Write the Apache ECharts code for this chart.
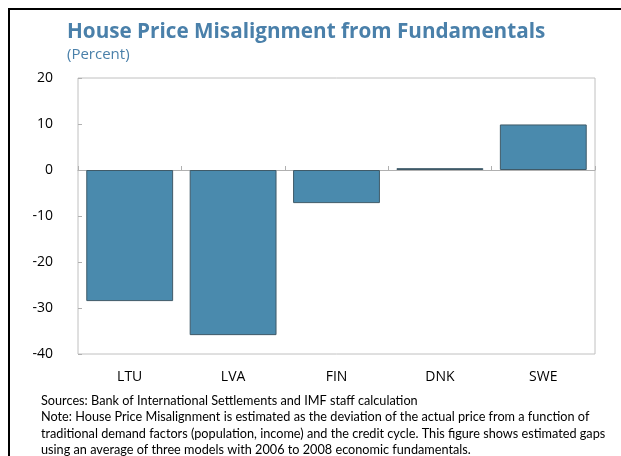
<!DOCTYPE html>
<html>
<head>
<meta charset="utf-8">
<script src="https://cdn.jsdelivr.net/npm/echarts@6/dist/echarts.min.js"></script>
<style>
  html, body { margin: 0; padding: 0; background: #fff; }
  #chart { width: 621px; height: 456px; }
</style>
</head>
<body>
<div id="chart"></div>
<script>
'use strict';

// chart data
var countries = ['LTU', 'LVA', 'FIN', 'DNK', 'SWE'];
var misalignment = [-28.5, -35.9, -7.2, 0.4, 9.9];
var footnotes = [
    'Sources: Bank of International Settlements and IMF staff calculation',
    'Note: House Price Misalignment is estimated as the deviation of the actual price from a function of',
    'traditional demand factors (population, income) and the credit cycle. This figure shows estimated gaps',
    'using an average of three models with 2006 to 2008 economic fundamentals.'
];

var titleBlue = '#4a80aa';
var fontFamily = '"Open Sans", "Noto Sans", sans-serif';
var noteFont = 'Lato, "Open Sans", sans-serif';

var chart = echarts.init(document.getElementById('chart'), null, { renderer: 'canvas' });

var noteText = footnotes.map(function (line, i) {
    return {
        type: 'text',
        left: 41,
        top: 394 + i * 16.5,
        style: {
            text: line,
            fill: '#000',
            font: '12.7px ' + noteFont
        }
    };
});

var options = {
    animation: false,
    backgroundColor: '#fff',
    title: {
        text: 'House Price Misalignment from Fundamentals',
        subtext: '(Percent)',
        left: 62,
        top: 17,
        itemGap: 4,
        textStyle: { color: titleBlue, fontSize: 20.7, fontWeight: 'bold', fontFamily: fontFamily },
        subtextStyle: { color: titleBlue, fontSize: 15, fontFamily: fontFamily }
    },
    grid: {
        left: 78,
        top: 78,
        right: 26,
        bottom: 102,
        show: true,
        borderColor: '#c0c0c0',
        borderWidth: 1
    },
    xAxis: [{
        type: 'category',
        data: countries,
        position: 'bottom',
        axisLine: { show: false, onZero: false },
        axisTick: { show: false },
        axisLabel: { color: '#000', fontSize: 14, margin: 16, fontFamily: fontFamily }
    }, {
        // the zero line with its upward ticks
        type: 'category',
        data: countries,
        position: 'bottom',
        axisLine: { show: true, onZero: true, lineStyle: { color: '#b0b0b0', width: 1 } },
        axisTick: { show: true, inside: true, length: 4, lineStyle: { color: '#b0b0b0' } },
        axisLabel: { show: false }
    }],
    yAxis: {
        type: 'value',
        min: -40,
        max: 20,
        interval: 10,
        axisLine: { show: false },
        axisTick: { show: true, inside: true, length: 4, lineStyle: { color: '#b0b0b0' } },
        axisLabel: { color: '#000', fontSize: 14, margin: 25, fontFamily: fontFamily },
        splitLine: { show: false }
    },
    series: [{
        type: 'bar',
        xAxisIndex: 0,
        data: misalignment,
        barCategoryGap: '16%',
        itemStyle: {
            color: '#4a8aad',
            borderColor: '#3f5a68',
            borderWidth: 1
        }
    }],
    graphic: [{
        type: 'rect',
        shape: { x: 9, y: 9, width: 700, height: 600 },
        style: { fill: 'none', stroke: '#000', lineWidth: 2 },
        silent: true
    }].concat(noteText)
};

chart.setOption(options);
</script>
</body>
</html>
